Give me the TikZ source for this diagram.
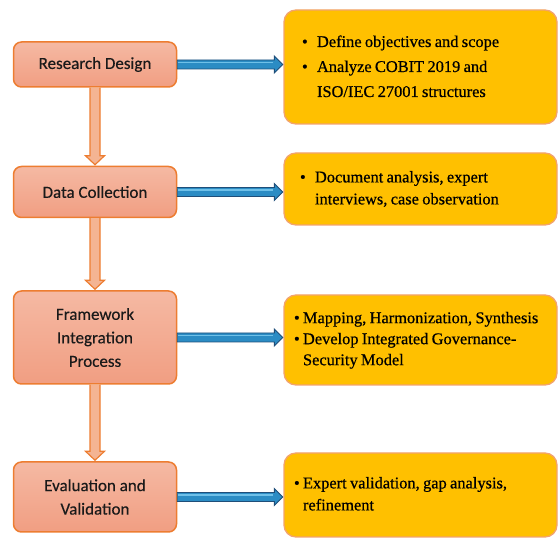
\documentclass[tikz,border=0pt]{standalone}
\usepackage{fontspec}
\setmainfont{Liberation Serif}
\newfontfamily\rbfont[FakeBold=0.6]{Liberation Serif}
\newfontfamily\lbfont[FakeBold=0.3]{Carlito}
\usetikzlibrary{calc}
\definecolor{lfilla}{HTML}{F5B9A3}
\definecolor{lfillb}{HTML}{F19E82}
\definecolor{lborder}{HTML}{ED7D31}
\definecolor{rfill}{HTML}{FFC000}
\definecolor{rborder}{HTML}{F2A36E}
\definecolor{abl}{HTML}{2B8CC4}
\definecolor{abd}{HTML}{1F4E79}
\definecolor{abh}{HTML}{6FC0E8}
\definecolor{aof}{HTML}{F4B493}
\definecolor{txt}{HTML}{1A1A1A}
\newcommand\rlist[4]{\hspace*{#1pt}{\rbfont\fontsize{16.4}{#3}\selectfont\begin{tabular}{@{}p{#2pt}@{}l@{}}#4\end{tabular}}}
\newcommand\barrow[2]{%
  \coordinate (bs) at (#1.east);
  \coordinate (be) at (#2.west |- #1.east);
  \filldraw[fill=abl, draw=abd, line width=0.9pt, line join=miter]
    ($(bs)+(0,-4.5)$) -- ($(be)+(-9,-4.5)$) -- ($(be)+(-9,-8.5)$) -- ($(be)+(-0.5,0)$)
    -- ($(be)+(-9,8.5)$) -- ($(be)+(-9,4.5)$) -- ($(bs)+(0,4.5)$) -- cycle;
  \draw[abh, line width=1.2pt] ($(bs)+(1,-2)$) -- ($(be)+(-10,-2)$);
}
\newcommand\oarrow[2]{%
  \coordinate (os) at (#1.south);
  \coordinate (oe) at (#2.north -| #1.south);
  \filldraw[fill=aof, draw=lborder, line width=1.2pt, line join=miter]
    ($(os)+(-5,0)$) -- ($(oe)+(-5,-10)$) -- ($(oe)+(-9.5,-10)$) -- ($(oe)+(0,-1)$)
    -- ($(oe)+(9.5,-10)$) -- ($(oe)+(5,-10)$) -- ($(os)+(5,0)$);
}
\begin{document}
\begin{tikzpicture}[x=1pt, y=-1pt,
  lbox/.style={draw=lborder, line width=1.5pt, rounded corners=8pt, top color=lfilla, bottom color=lfillb,
    minimum width=163pt, align=center, font=\lbfont\fontsize{17}{23.5}\selectfont, text=txt, inner sep=0pt},
  rbox/.style={draw=rborder, line width=1.3pt, rounded corners=12pt, fill=rfill, minimum width=273pt,
    text width=273pt, align=left, inner sep=0pt, text=black, font=\rbfont}]
\useasboundingbox (0,0) rectangle (558,540);

\node[lbox, minimum height=45pt] (l1) at (95,64.5) {Research Design};
\node[lbox, minimum height=51pt] (l2) at (95,192) {Data Collection};
\node[lbox, minimum height=93pt] (l3) at (95,337.5) {Framework\\Integration\\Process};
\node[lbox, minimum height=70pt] (l4) at (95,497) {Evaluation and\\Validation};

\node[rbox, minimum height=114pt] (r1) at (420.5,67)
  {\rlist{18}{15}{25}{\textbullet & Define objectives and scope\\ \textbullet & Analyze COBIT 2019 and\\ & ISO/IEC 27001 structures}};
\node[rbox, minimum height=72pt] (r2) at (420.5,189)
  {\rlist{16}{15}{22}{\textbullet & Document analysis, expert\\ & interviews, case observation}};
\node[rbox, minimum height=90pt] (r3) at (420.5,340)
  {\rlist{10}{9}{21}{\textbullet & Mapping, Harmonization, Synthesis\\ \textbullet & Develop Integrated Governance-\\ & Security Model}};
\node[rbox, minimum height=84pt] (r4) at (420.5,495)
  {\rlist{10}{9}{22}{\textbullet & Expert validation, gap analysis,\\ & refinement}};

\oarrow{l1}{l2}
\oarrow{l2}{l3}
\oarrow{l3}{l4}

\barrow{l1}{r1}
\barrow{l2}{r2}
\barrow{l3}{r3}
\barrow{l4}{r4}
\end{tikzpicture}
\end{document}
